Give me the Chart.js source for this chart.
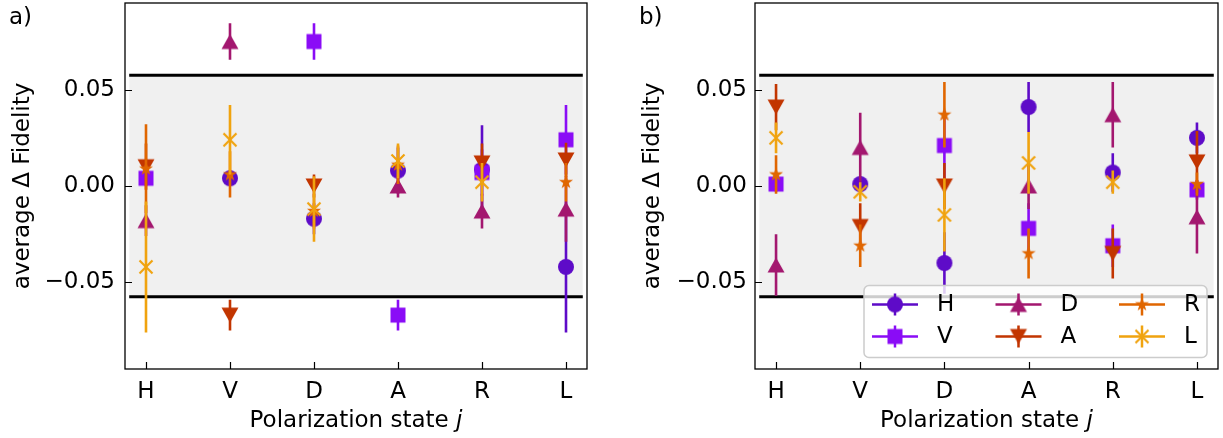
<!DOCTYPE html>
<html>
<head>
<meta charset="utf-8">
<script src="https://cdn.jsdelivr.net/npm/chart.js@4.4.1/dist/chart.umd.min.js"></script>
<style>
  html, body { margin: 0; padding: 0; background: #fff; }
  #wrap { position: relative; width: 1223px; height: 438px; }
  canvas { position: absolute; top: 0; }
  #chart-a { left: 0; }
  #chart-b { left: 615px; }
</style>
</head>
<body>
<div id="wrap">
  <canvas id="chart-a" width="615" height="438"></canvas>
  <canvas id="chart-b" width="608" height="438"></canvas>
</div>
<script>
const states = ['H', 'V', 'D', 'A', 'R', 'L'];
const yTicks = [-0.05, 0, 0.05];
const threshold = 0.0575;

// panel a) -- one array per prepared state, indexed by measured state j
const aH = [null, 0.004, -0.017, 0.008, 0.0085, -0.042];
const aV = [0.004, null, 0.075, -0.067, 0.007, 0.024];
const aD = [-0.018, 0.075, null, 0.000, -0.013, -0.012];
const aA = [0.010, -0.067, 0.000, null, 0.012, 0.0135];
const aR = [0.009, 0.006, -0.013, 0.011, null, 0.002];
const aL = [-0.042, 0.024, -0.012, 0.013, 0.002, null];

const aHerr = [null, 0.004, 0.008, 0.012, 0.023, 0.034];
const aVerr = [0.004, null, 0.0095, 0.008, 0.012, 0.018];
const aDerr = [0.008, 0.0095, null, 0.006, 0.009, 0.017];
const aAerr = [0.012, 0.008, 0.006, null, 0.010, 0.009];
const aRerr = [0.023, 0.012, 0.009, 0.010, null, 0.010];
const aLerr = [0.034, 0.018, 0.017, 0.009, 0.010, null];

// panel b)
const bH = [null, 0.001, -0.040, 0.041, 0.007, 0.025];
const bV = [0.001, null, 0.021, -0.022, -0.031, -0.002];
const bD = [-0.041, 0.020, null, 0.000, 0.037, -0.016];
const bA = [0.041, -0.021, 0.000, null, -0.035, 0.0125];
const bR = [0.006, -0.031, 0.037, -0.035, null, 0.001];
const bL = [0.025, -0.003, -0.015, 0.012, 0.002, null];

const bHerr = [null, 0.004, 0.016, 0.013, 0.010, 0.008];
const bVerr = [0.004, null, 0.018, 0.013, 0.011, 0.005];
const bDerr = [0.016, 0.018, null, 0.012, 0.017, 0.019];
const bAerr = [0.012, 0.012, 0.012, null, 0.013, 0.016];
const bRerr = [0.010, 0.011, 0.017, 0.013, null, 0.006];
const bLerr = [0.008, 0.005, 0.019, 0.016, 0.006, null];

const seriesColors = ['#5e0bc8', '#8a0cf6', '#a3176f', '#c23500', '#e06600', '#f0a30f'];
const markerShapes = ['circle', 'square', 'triUp', 'triDown', 'star', 'cross'];
const FONT = '23px "DejaVu Sans"';

Chart.defaults.font.family = '"DejaVu Sans", sans-serif';
Chart.defaults.font.size = 23;
Chart.defaults.color = '#000';

function makeMarker(shape, color) {
    const c = document.createElement('canvas');
    c.width = 20;
    c.height = 20;
    const g = c.getContext('2d');
    const m = 10;
    g.fillStyle = color;
    g.strokeStyle = color;
    g.beginPath();
    if (shape === 'circle') {
        g.arc(m, m, 8, 0, 2 * Math.PI);
    } else if (shape === 'square') {
        g.rect(m - 7.5, m - 7.5, 15, 15);
    } else if (shape === 'triUp') {
        g.moveTo(m, m - 7.5);
        g.lineTo(m + 8.5, m + 7.5);
        g.lineTo(m - 8.5, m + 7.5);
        g.closePath();
    } else if (shape === 'triDown') {
        g.moveTo(m, m + 7.5);
        g.lineTo(m + 8.5, m - 7.5);
        g.lineTo(m - 8.5, m - 7.5);
        g.closePath();
    } else if (shape === 'star') {
        for (let k = 0; k < 10; k++) {
            const r = k % 2 ? 2.9 : 7.4;
            const a = -Math.PI / 2 + k * Math.PI / 5;
            g.lineTo(m + r * Math.cos(a), m + r * Math.sin(a));
        }
        g.closePath();
    }
    if (shape === 'cross') {
        g.lineWidth = 2.2;
        g.moveTo(m - 6.5, m - 6.5);
        g.lineTo(m + 6.5, m + 6.5);
        g.moveTo(m + 6.5, m - 6.5);
        g.lineTo(m - 6.5, m + 6.5);
        g.stroke();
    } else {
        g.fill();
    }
    return c;
}

const markers = markerShapes.map((s, i) => makeMarker(s, seriesColors[i]));

function errorSegments(vals, errs) {
    const pts = [];
    vals.forEach((v, j) => {
        if (v === null) return;
        pts.push({ x: j, y: v - errs[j] }, { x: j, y: v + errs[j] }, { x: j, y: null });
    });
    return pts;
}

function markerPoints(vals) {
    return vals.map((v, j) => ({ x: j, y: v })).filter(p => p.y !== null);
}

function fmtTick(v) {
    if (Math.abs(v) < 1e-9) return '0.00';
    return (v < 0 ? '\u2212' : '') + Math.abs(v).toFixed(2);
}

function noPadding(s) {
    s.paddingTop = 0;
    s.paddingBottom = 0;
    s.paddingLeft = 0;
    s.paddingRight = 0;
}

function drawLegend(ctx, ca) {
    const w = 343, h = 72;
    const bx = ca.right - 11 - w, by = ca.bottom - 11.5 - h;
    const r = 5;
    ctx.beginPath();
    ctx.moveTo(bx + r, by);
    ctx.arcTo(bx + w, by, bx + w, by + h, r);
    ctx.arcTo(bx + w, by + h, bx, by + h, r);
    ctx.arcTo(bx, by + h, bx, by, r);
    ctx.arcTo(bx, by, bx + w, by, r);
    ctx.closePath();
    ctx.fillStyle = 'rgba(255,255,255,0.8)';
    ctx.fill();
    ctx.strokeStyle = '#cccccc';
    ctx.lineWidth = 1.5;
    ctx.stroke();

    ctx.font = FONT;
    ctx.textBaseline = 'middle';
    ctx.textAlign = 'left';
    for (let idx = 0; idx < states.length; idx++) {
        const col = Math.floor(idx / 2), row = idx % 2;
        const cx = bx + 31 + col * 123.5;
        const cy = by + 19 + row * 32;
        ctx.strokeStyle = seriesColors[idx];
        ctx.lineWidth = 2.5;
        ctx.beginPath();
        ctx.moveTo(cx - 23, cy);
        ctx.lineTo(cx + 23, cy);
        ctx.moveTo(cx, cy - 11);
        ctx.lineTo(cx, cy + 11);
        ctx.stroke();
        ctx.drawImage(markers[idx], cx - 10, cy - 10);
        ctx.fillStyle = '#000';
        ctx.fillText(states[idx], cx + 42, cy + 1);
    }
}

const panelDecor = {
    id: 'panelDecor',
    afterDatasetsDraw(chart, args, o) {
        const { ctx, chartArea: ca, scales } = chart;
        ctx.save();
        ctx.strokeStyle = '#000';
        ctx.lineWidth = 1.2;
        ctx.beginPath();
        yTicks.forEach(v => {
            const py = Math.round(scales.y.getPixelForValue(v)) + 0.5;
            ctx.moveTo(ca.left, py);
            ctx.lineTo(ca.left + 7, py);
        });
        states.forEach((_, j) => {
            const px = Math.round(scales.x.getPixelForValue(j)) + 0.5;
            ctx.moveTo(px, ca.bottom);
            ctx.lineTo(px, ca.bottom - 7);
        });
        ctx.stroke();
        ctx.lineWidth = 1.3;
        ctx.strokeRect(ca.left, ca.top, ca.right - ca.left, ca.bottom - ca.top);

        // x axis title with italic j
        ctx.fillStyle = '#000';
        ctx.textBaseline = 'alphabetic';
        ctx.textAlign = 'left';
        const t1 = 'Polarization state ';
        ctx.font = FONT;
        const w1 = ctx.measureText(t1).width;
        ctx.font = 'italic ' + FONT;
        const w2 = ctx.measureText('j').width;
        const x0 = (ca.left + ca.right) / 2 - (w1 + w2) / 2;
        ctx.font = FONT;
        ctx.fillText(t1, x0, ca.bottom + 58);
        ctx.font = 'italic ' + FONT;
        ctx.fillText('j', x0 + w1, ca.bottom + 58);

        ctx.font = FONT;
        ctx.fillText(o.label, o.labelX, 24);

        if (o.legend) drawLegend(ctx, ca);
        ctx.restore();
    }
};

function createPanel(canvasId, seriesVals, seriesErrs, opts) {
    const datasets = [
        {
            data: [{ x: -0.2, y: threshold }, { x: 5.2, y: threshold }],
            borderColor: '#000', borderWidth: 3, pointRadius: 0,
            fill: '+1', backgroundColor: '#f0f0f0', order: 100
        },
        {
            data: [{ x: -0.2, y: -threshold }, { x: 5.2, y: -threshold }],
            borderColor: '#000', borderWidth: 3, pointRadius: 0,
            fill: false, order: 99
        }
    ];
    seriesVals.forEach((vals, i) => {
        datasets.push({
            label: states[i] + ' err',
            data: errorSegments(vals, seriesErrs[i]),
            borderColor: seriesColors[i], borderWidth: 2.6,
            pointRadius: 0, fill: false, spanGaps: false,
            order: 40 - 2 * i
        });
        datasets.push({
            label: states[i],
            data: markerPoints(vals),
            showLine: false,
            pointStyle: markers[i],
            pointRadius: 10,
            order: 39 - 2 * i
        });
    });

    return new Chart(document.getElementById(canvasId), {
        type: 'line',
        data: { datasets },
        options: {
            responsive: false,
            animation: false,
            events: [],
            layout: {
                autoPadding: false,
                padding: { left: 0, top: 3, right: opts.padRight, bottom: 0 }
            },
            scales: {
                x: {
                    type: 'linear',
                    min: -0.25,
                    max: 5.25,
                    afterBuildTicks: s => { s.ticks = states.map((_, j) => ({ value: j })); },
                    ticks: { callback: v => states[v], padding: 9, autoSkip: false, maxRotation: 0 },
                    grid: { display: false, drawTicks: false },
                    border: { display: false },
                    afterFit: s => { s.height = 69; noPadding(s); }
                },
                y: {
                    min: -0.095,
                    max: 0.095,
                    afterBuildTicks: s => { s.ticks = yTicks.map(v => ({ value: v })); },
                    ticks: { callback: v => fmtTick(v), padding: opts.tickPad },
                    grid: { display: false, drawTicks: false },
                    border: { display: false },
                    title: {
                        display: true,
                        text: 'average \u0394 Fidelity',
                        padding: { top: opts.titlePad, bottom: 0 }
                    },
                    afterFit: s => { s.width = opts.axisWidth; noPadding(s); }
                }
            },
            plugins: {
                legend: { display: false },
                tooltip: { enabled: false },
                panelDecor: { label: opts.label, labelX: opts.labelX, legend: opts.legend }
            }
        },
        plugins: [panelDecor]
    });
}

createPanel('chart-a',
    [aH, aV, aD, aA, aR, aL],
    [aHerr, aVerr, aDerr, aAerr, aRerr, aLerr],
    { padRight: 28, axisWidth: 125, tickPad: 10, titlePad: 9, label: 'a)', labelX: 9, legend: false });

createPanel('chart-b',
    [bH, bV, bD, bA, bR, bL],
    [bHerr, bVerr, bDerr, bAerr, bRerr, bLerr],
    { padRight: 5, axisWidth: 140, tickPad: 8, titlePad: 24, label: 'b)', labelX: 24, legend: true });
</script>
</body>
</html>
